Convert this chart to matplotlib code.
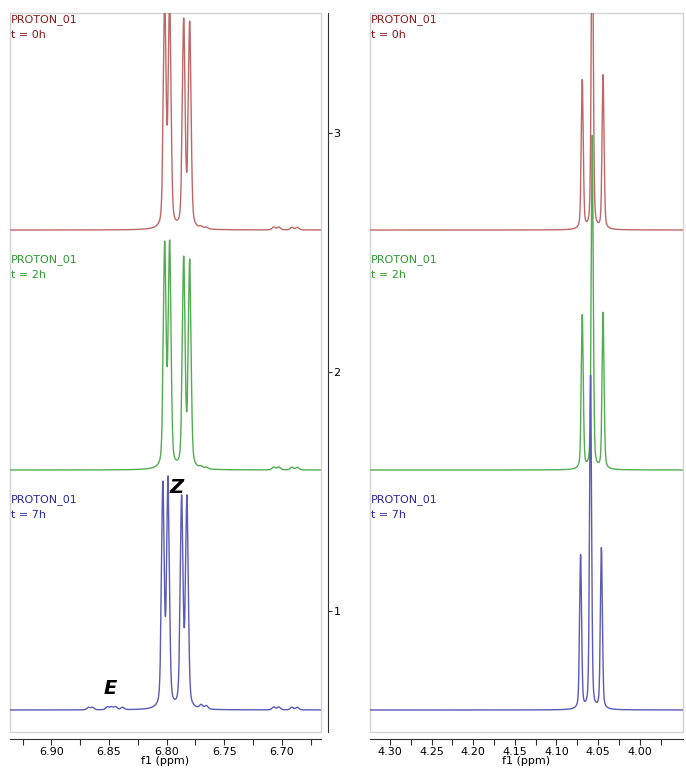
#!/usr/bin/env python3
"""
Stacked 1H NMR traces (PROTON_01 at t = 0h, 2h, 7h), two ppm windows side by side.
Peaks are listed below as position / height; traces are built as pseudo-Voigt sums.
"""
import numpy as np
import matplotlib.pyplot as plt
import matplotlib.transforms as mtransforms
from matplotlib.patches import Rectangle
from matplotlib.ticker import FormatStrFormatter, FixedLocator

SAMPLE = "PROTON_01"
TIMES = ["t = 0h", "t = 2h", "t = 7h"]
OFFSETS = [2.594, 1.590, 0.586]
LINE_COLORS = ["#bf6767", "#52ad52", "#5a5ab8"]
TEXT_COLORS = ["#8b1a1a", "#2f9a2f", "#2a2a9e"]

# left window, olefinic dd (Z isomer)
LEFT_PPM = [
    [6.8017, 6.7974, 6.7852, 6.7800],
    [6.8017, 6.7974, 6.7852, 6.7800],
    [6.8033, 6.7988, 6.7870, 6.7824],
]
LEFT_HEIGHT = [
    [0.975, 0.975, 0.887, 0.874],
    [0.958, 0.962, 0.895, 0.883],
    [0.958, 0.979, 0.900, 0.900],
]
# small signals present in every trace
MINOR_PPM = [6.7700, 6.7655, 6.7070, 6.7026, 6.6913, 6.6865]
MINOR_HEIGHT = [0.008, 0.007, 0.012, 0.012, 0.011, 0.011]
# E isomer, only seen at t = 7h
E_PPM = [6.8678, 6.8643, 6.8513, 6.8478, 6.8443, 6.8383]
E_HEIGHT = [0.010, 0.010, 0.012, 0.011, 0.012, 0.010]

# right window, OCH2 region
RIGHT_PPM = [
    [4.0690, 4.0570, 4.0440],
    [4.0690, 4.0570, 4.0440],
    [4.0710, 4.0590, 4.0460],
]
RIGHT_HEIGHT = [
    [0.63, 1.40, 0.65],
    [0.65, 1.40, 0.66],
    [0.65, 1.40, 0.68],
]

LEFT_TICKS = [6.90, 6.85, 6.80, 6.75, 6.70]
LEFT_MINOR = [6.925, 6.875, 6.825, 6.775, 6.725, 6.675]
RIGHT_TICKS = [4.30, 4.25, 4.20, 4.15, 4.10, 4.05, 4.00]
RIGHT_MINOR = [4.275, 4.225, 4.175, 4.125, 4.075, 4.025, 3.975]

SIGMA = 0.00119   # gaussian part, ppm
GAMMA = 0.0014    # lorentzian HWHM, ppm
ETA = 0.35        # lorentzian fraction
YLIM = (0.494, 3.502)
FW, FH = 686, 775


def shape(x, x0, scale=1.0):
    d = x - x0
    g = np.exp(-d ** 2 / (2 * (SIGMA * scale) ** 2))
    lo = 1.0 / (1.0 + (d / (GAMMA * scale)) ** 2)
    return (1 - ETA) * g + ETA * lo


def trace(x, ppm, height, extra_ppm=(), extra_h=()):
    # solve amplitudes so the summed curve hits the read-off peak heights
    ppm = np.asarray(ppm)
    m = shape(ppm[:, None], ppm[None, :])
    amps = np.linalg.solve(m, np.asarray(height))
    y = np.zeros_like(x)
    for p, a in zip(ppm, amps):
        y += a * shape(x, p)
    for p, a in zip(extra_ppm, extra_h):
        y += a * shape(x, p, 1.2)
    return y


def px_axes(fig, x0, y0, x1, y1):
    return fig.add_axes([x0 / FW, 1 - y1 / FH, (x1 - x0) / FW, (y1 - y0) / FH])


def style(ax, xlim, ticks, minor, show_y):
    ax.set_xlim(*xlim)
    ax.set_ylim(*YLIM)
    ax.spines["left"].set_visible(False)
    ax.spines["top"].set_visible(False)
    ax.spines["bottom"].set_position(("outward", 5))
    ax.spines["bottom"].set_color("#303030")
    ax.add_patch(Rectangle((0, 0), 1, 1, transform=ax.transAxes, fill=False,
                           ec="#d4d4d4", lw=1.0, clip_on=False, zorder=0))
    ax.xaxis.set_major_locator(FixedLocator(ticks))
    ax.xaxis.set_minor_locator(FixedLocator(minor))
    ax.xaxis.set_major_formatter(FormatStrFormatter("%.2f"))
    ax.tick_params(axis="x", which="both", direction="out", length=4, width=0.8,
                   color="#303030", labelsize=8, pad=2)
    ax.set_xlabel("f1 (ppm)", fontsize=8, labelpad=-1)
    if show_y:
        ax.spines["right"].set_position(("outward", 5))
        ax.spines["right"].set_color("#303030")
        ax.yaxis.tick_right()
        ax.yaxis.set_major_locator(FixedLocator([1, 2, 3]))
        ax.tick_params(axis="y", direction="out", length=3, width=0.8,
                       color="#303030", labelsize=8, pad=1)
    else:
        ax.spines["right"].set_visible(False)
        ax.set_yticks([])


def labels(ax):
    tr = mtransforms.blended_transform_factory(ax.transAxes, ax.transData)
    for off, t, c in zip(OFFSETS, TIMES, TEXT_COLORS):
        ax.text(0.002, off + 0.905, SAMPLE, transform=tr, va="top", ha="left",
                fontsize=8, color=c)
        ax.text(0.002, off + 0.838, t, transform=tr, va="top", ha="left",
                fontsize=8, color=c)


def main() -> None:
    fig = plt.figure(figsize=(FW / 100, FH / 100), dpi=100)

    ax_l = px_axes(fig, 10, 13, 321, 732)
    ax_r = px_axes(fig, 370, 13, 683, 732)

    xl = np.arange(6.66, 6.95, 0.0001)
    xr = np.arange(3.94, 4.34, 0.0001)

    for i, off in enumerate(OFFSETS):
        ex_p, ex_h = list(MINOR_PPM), list(MINOR_HEIGHT)
        if i == 2:
            ex_p += E_PPM
            ex_h += E_HEIGHT
            ex_h[0], ex_h[1] = 0.016, 0.014
        yl = trace(xl, LEFT_PPM[i], LEFT_HEIGHT[i], ex_p, ex_h)
        ax_l.plot(xl, yl + off, color=LINE_COLORS[i], lw=1.0)
        yr = trace(xr, RIGHT_PPM[i], RIGHT_HEIGHT[i])
        ax_r.plot(xr, yr + off, color=LINE_COLORS[i], lw=1.0)

    style(ax_l, (6.936, 6.666), LEFT_TICKS, LEFT_MINOR, True)
    style(ax_r, (4.324, 3.948), RIGHT_TICKS, RIGHT_MINOR, False)
    labels(ax_l)
    labels(ax_r)

    ax_l.text(6.7915, 1.515, "Z", fontsize=14, fontweight="bold", fontstyle="italic",
              ha="center", va="center")
    ax_l.text(6.8487, 0.678, "E", fontsize=14, fontweight="bold", fontstyle="italic",
              ha="center", va="center")

    fig.savefig("out.png", dpi=100)
    plt.close(fig)


if __name__ == "__main__":
    main()
